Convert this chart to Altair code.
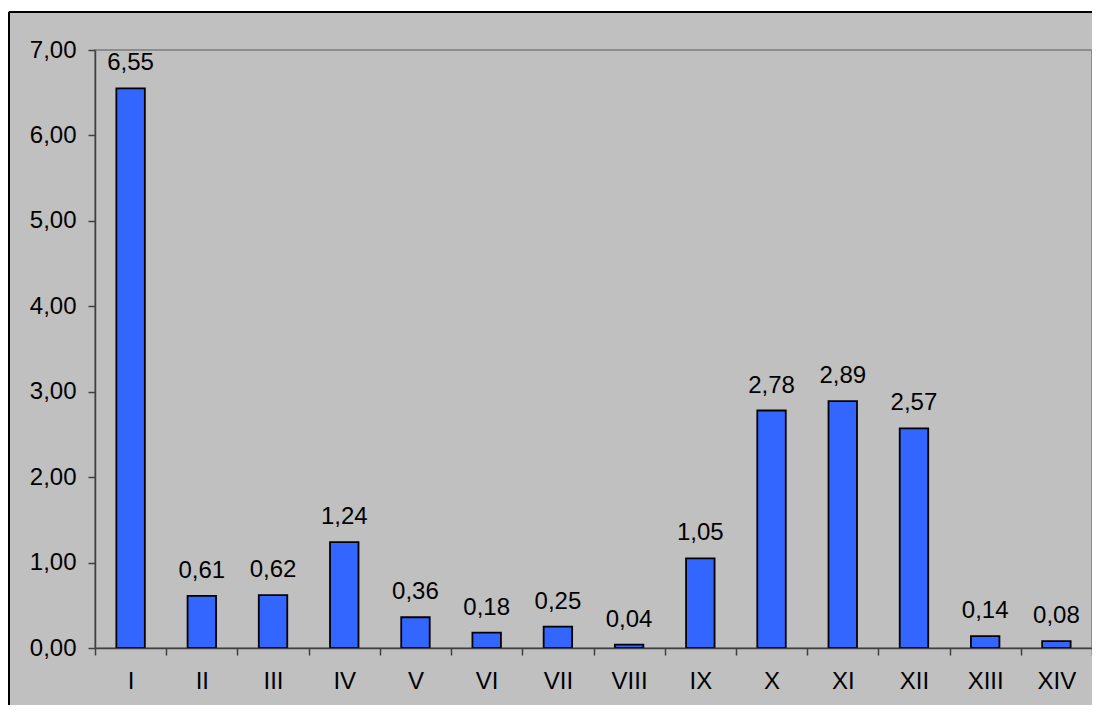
import altair as alt
import pandas as pd

categories = ["I", "II", "III", "IV", "V", "VI", "VII", "VIII", "IX", "X", "XI", "XII", "XIII", "XIV"]
values = [6.55, 0.61, 0.62, 1.24, 0.36, 0.18, 0.25, 0.04, 1.05, 2.78, 2.89, 2.57, 0.14, 0.08]
y_ticks = [0, 1, 2, 3, 4, 5, 6, 7]

df = pd.DataFrame({"cat": categories, "val": values})

FONT = "Liberation Sans"
FS = 24

x_enc = alt.X("cat:N", sort=categories,
              scale=alt.Scale(paddingInner=0, paddingOuter=0),
              axis=alt.Axis(title=None, labelAngle=0, labelFontSize=FS, labelFont=FONT,
                            labelColor="#000000", tickBand="extent", tickSize=7,
                            tickColor="#404040", domainColor="#404040", domainWidth=1.5,
                            tickWidth=1.5, labelPadding=14, zindex=1))
y_enc = alt.Y("val:Q", scale=alt.Scale(domain=[0, 7], nice=False),
              axis=alt.Axis(title=None, values=y_ticks, labelFontSize=FS, labelFont=FONT,
                            labelColor="#000000",
                            labelExpr="replace(format(datum.value, '.2f'), '.', ',')",
                            tickSize=7, tickColor="#404040", domainColor="#404040",
                            domainWidth=1.5, tickWidth=1.5, labelPadding=12, grid=False,
                            zindex=1))

base = alt.Chart(df)

bars = base.mark_bar(color="#3366FF", stroke="#000000", strokeWidth=1.8,
                     width=alt.RelativeBandSize(0.4)).encode(x=x_enc, y=y_enc)

labels = base.transform_calculate(
    lab="replace(format(datum.val, '.2f'), '.', ',')"
).mark_text(fontSize=FS, font=FONT, color="#000000", baseline="alphabetic", dy=-18).encode(
    x=alt.X("cat:N", sort=categories), y=alt.Y("val:Q"), text="lab:N")

# decorative outer frame (white strip + black border line), pixel positions
white_strip = base.mark_rule(color="#FFFFFF", strokeWidth=8).encode(
    x=alt.value(-95), x2=alt.value(1020), y=alt.value(-43))
top_border = base.mark_rule(color="#000000", strokeWidth=1.5).encode(
    x=alt.value(-86), x2=alt.value(1020), y=alt.value(-38))
left_strip = base.mark_rule(color="#FFFFFF", strokeWidth=2).encode(
    x=alt.value(-88), y=alt.value(-45), y2=alt.value(700))
left_border = base.mark_rule(color="#000000", strokeWidth=1.5).encode(
    x=alt.value(-86), y=alt.value(-38), y2=alt.value(700))

chart = alt.layer(white_strip, left_strip, top_border, left_border, bars, labels).properties(
    width=997, height=598,
    autosize=alt.AutoSizeParams(type="none"),
    padding={"left": 87, "top": 42, "right": 0, "bottom": 57},
    background="#C0C0C0",
).configure_view(
    fill="#C0C0C0", stroke="#8C8C8C", strokeWidth=2
)

chart.save("out.html", embed_options={"renderer": "svg", "actions": False})
